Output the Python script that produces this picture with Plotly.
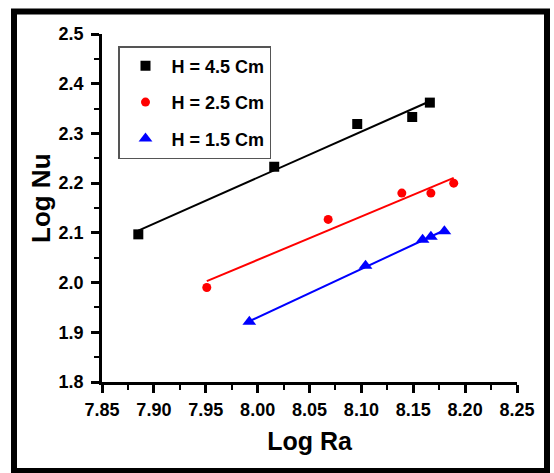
import numpy as np
import plotly.graph_objects as go

# Measured points (log10 Rayleigh vs log10 Nusselt) for three heights
ra_h45 = [7.885, 8.016, 8.096, 8.149, 8.166]
nu_h45 = [2.097, 2.233, 2.319, 2.333, 2.362]

ra_h25 = [7.951, 8.068, 8.139, 8.167, 8.189]
nu_h25 = [1.990, 2.127, 2.180, 2.180, 2.200]

ra_h15 = [7.992, 8.104, 8.159, 8.167, 8.180]
nu_h15 = [1.921, 2.034, 2.086, 2.092, 2.103]

series_names = ["H = 4.5 Cm", "H = 2.5 Cm", "H = 1.5 Cm"]
series_colors = ["#000000", "#ff0000", "#0000ff"]
series_symbols = ["square", "circle", "triangle-up"]
series_sizes = [10, 9, 12]

x_ticks = [7.85, 7.90, 7.95, 8.00, 8.05, 8.10, 8.15, 8.20, 8.25]
y_ticks = [1.8, 1.9, 2.0, 2.1, 2.2, 2.3, 2.4, 2.5]

FONT = "Arial, 'Liberation Sans', sans-serif"

fig = go.Figure()

data = [(ra_h45, nu_h45), (ra_h25, nu_h25), (ra_h15, nu_h15)]
for i, (xs, ys) in enumerate(data):
    # least-squares linear fit across the measured range
    slope, intercept = np.polyfit(xs, ys, 1)
    fit_x = np.array([min(xs), max(xs)])
    fig.add_trace(go.Scatter(
        x=fit_x, y=slope * fit_x + intercept, mode="lines",
        line=dict(color=series_colors[i], width=2),
        showlegend=False, hoverinfo="skip",
    ))
for i, (xs, ys) in enumerate(data):
    fig.add_trace(go.Scatter(
        x=xs, y=ys, mode="markers", name=series_names[i],
        legendgroup=f"g{i}",
        marker=dict(symbol=series_symbols[i], size=series_sizes[i],
                    color=series_colors[i], line=dict(width=0)),
    ))

W, H = 554, 473
ML, MR, MT, MB = 102, 37, 34, 91
pw, ph = W - ML - MR, H - MT - MB


def px_to_paper(px, py):
    return (px - ML) / pw, (H - MB - py) / ph


x0, y0 = px_to_paper(14, 471)
x1, y1 = px_to_paper(547, 11.5)
fig.add_shape(type="rect", xref="paper", yref="paper",
              x0=x0, y0=y0, x1=x1, y1=y1,
              line=dict(color="black", width=6), layer="above")

axis_common = dict(
    showline=True, linecolor="black", linewidth=2.5,
    ticks="outside", ticklen=8, tickwidth=2.5, tickcolor="black",
    showgrid=False, zeroline=False, mirror=False,
    tickfont=dict(family=FONT, size=18, color="black", weight="bold"),
    title_font=dict(family=FONT, size=25, color="black", weight="bold"),
)

fig.update_xaxes(
    range=[7.85, 8.25], tickvals=x_ticks, tickformat=".2f",
    minor=dict(ticks="outside", ticklen=5, tickwidth=2, tickcolor="black", dtick=0.025),
    title_text="Log Ra", title_standoff=14, ticklabelstandoff=2,
    **axis_common,
)
fig.update_yaxes(
    range=[1.8, 2.5], tickvals=y_ticks, tickformat=".1f",
    minor=dict(ticks="outside", ticklen=5, tickwidth=2, tickcolor="black", dtick=0.05),
    ticklabelstandoff=4,
    **axis_common,
)

tx, ty = px_to_paper(41, 198)
fig.add_annotation(text="Log Nu", xref="paper", yref="paper", x=tx, y=ty,
                   xanchor="center", yanchor="middle",
                   textangle=-90, showarrow=False,
                   font=dict(family=FONT, size=26, color="black", weight="bold"))

lx, ly = px_to_paper(118, 46)
fig.update_layout(
    width=W, height=H,
    margin=dict(l=ML, r=MR, t=MT, b=MB),
    paper_bgcolor="white", plot_bgcolor="white",
    legend=dict(x=lx, y=ly, xanchor="left", yanchor="top",
                bordercolor="#555555", borderwidth=1.5, bgcolor="white",
                tracegroupgap=10, itemwidth=42,
                font=dict(family=FONT, size=18, color="black", weight="bold")),
)

fig.write_html("out.html")
